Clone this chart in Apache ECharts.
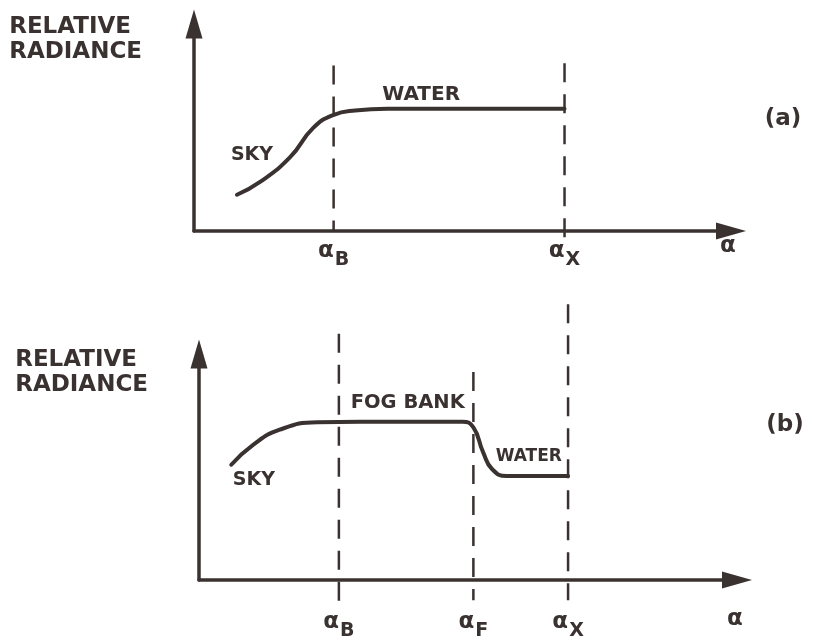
<!DOCTYPE html>
<html>
<head>
<meta charset="utf-8">
<script src="https://cdn.jsdelivr.net/npm/echarts@6/dist/echarts.min.js"></script>
<style>
  html, body { margin: 0; padding: 0; background: #ffffff; }
  #chart { width: 813px; height: 641px; }
</style>
</head>
<body>
<div id="chart"></div>
<script>
// Relative radiance against viewing angle α:
// (a) sky horizon seen over open water, (b) the same with a fog bank in between.

const INK = '#3a3230';
const FONT = 'DejaVu Sans';

// Marked angles (abscissa units) for each panel
const anglesA = { B: 26, X: 69 };
const anglesB = { B: 26, F: 51, X: 68.6 };

// Panel (a): sky rising into a flat water level
const skyWaterX = [8, 12.3, 17.9, 22.2, 25.9, 30, 36, 69];
const skyWaterY = [17.5, 23.7, 35.7, 49.8, 56, 58.2, 59, 59];

// Panel (b): sky rising into the fog bank, dropping to the water level
const skyFogX = [6, 10, 15, 22, 30, 49, 51, 52.8, 54.5, 57.2, 62, 68.6];
const skyFogY = [51, 59.7, 66.5, 69.8, 70, 70, 67.5, 56.6, 49, 46, 46, 46];

// Vertical extent [top, bottom] of the dashed guide at each marked angle
const guideA = { B: [80, 0], X: [81, -5] };
const guideB = { B: [109, -10], F: [92, -9], X: [122, -9] };

// Region names written along the curves
const regionNamesA = ['SKY', 'WATER'];
const regionNamesB = ['SKY', 'FOG BANK', 'WATER'];

const yTitle = '{n|RELATIVE}\n{n|RADIANCE}';

function alphaRich(size, subSize) {
  return {
    a: { fontFamily: FONT, fontSize: size, lineHeight: size, color: INK, fontWeight: 'bold', verticalAlign: 'top' },
    s: { fontFamily: FONT, fontSize: subSize, lineHeight: subSize, color: INK, fontWeight: 'bold',
         verticalAlign: 'top', padding: [11, 0, 0, 1] }
  };
}

function xAxisFor(gridIndex, angles, margin, nameGap, nameLineHeight) {
  const keys = Object.keys(angles);
  return {
    type: 'value', gridIndex: gridIndex, min: 0, max: 100,
    axisLine: {
      onZero: false,
      symbol: ['none', 'triangle'], symbolSize: [17, 30],
      lineStyle: { color: INK, width: 3.5 }
    },
    axisTick: { show: false },
    splitLine: { show: false },
    axisLabel: {
      customValues: keys.map(k => angles[k]),
      margin: margin,
      formatter: v => {
        const k = keys.find(key => angles[key] === v);
        return '{a|α}{s|' + k + '}';
      },
      rich: alphaRich(23, 19)
    },
    name: 'α', nameLocation: 'end', nameGap: nameGap,
    nameTextStyle: {
      fontFamily: FONT, fontSize: 23, fontWeight: 'bold', color: INK,
      align: 'center', verticalAlign: 'top', lineHeight: nameLineHeight
    }
  };
}

function yAxisFor(gridIndex, nameGap, padRight) {
  return {
    type: 'value', gridIndex: gridIndex, min: 0, max: 100,
    axisLine: {
      onZero: false,
      symbol: ['none', 'triangle'], symbolSize: [17, 29],
      lineStyle: { color: INK, width: 3.5 }
    },
    axisTick: { show: false },
    splitLine: { show: false },
    axisLabel: { show: false },
    name: yTitle, nameLocation: 'end', nameGap: nameGap,
    nameTextStyle: {
      align: 'right', verticalAlign: 'middle', padding: [0, padRight, 0, 0],
      rich: { n: { fontFamily: FONT, fontSize: 23, fontWeight: 'bold', color: INK, lineHeight: 25, align: 'left' } }
    }
  };
}

function curve(gridIndex, xs, ys) {
  return {
    type: 'line', xAxisIndex: gridIndex, yAxisIndex: gridIndex,
    data: xs.map((x, i) => [x, ys[i]]),
    smooth: 0.5,
    symbol: 'none', silent: true, z: 4,
    lineStyle: { color: INK, width: 4, cap: 'round', join: 'round' }
  };
}

function guides(gridIndex, angles, extents) {
  return Object.keys(angles).map(k => ({
    type: 'line', xAxisIndex: gridIndex, yAxisIndex: gridIndex,
    data: [[angles[k], extents[k][0]], [angles[k], extents[k][1]]],
    symbol: 'none', silent: true, clip: false, z: 3,
    lineStyle: { color: INK, width: 2.5, type: [19, 12] }
  }));
}

function regionLabels(gridIndex, names, spots) {
  return {
    type: 'scatter', xAxisIndex: gridIndex, yAxisIndex: gridIndex,
    symbolSize: 0, silent: true, z: 5,
    itemStyle: { color: INK },
    data: names.map((n, i) => ({
      name: n, value: [spots[i][0], spots[i][1]],
      label: { fontSize: spots[i][2] }
    })),
    label: {
      show: true, position: 'inside', formatter: '{b}',
      fontFamily: FONT, fontWeight: 'bold', color: INK,
      textBorderWidth: 0, opacity: 1
    }
  };
}

const chart = echarts.init(document.getElementById('chart'));

chart.setOption({
  animation: false,
  backgroundColor: '#ffffff',
  grid: [
    { left: 194, top: 24, width: 537, height: 207, containLabel: false, outerBoundsMode: 'none' },
    { left: 199, top: 354, width: 538, height: 226, containLabel: false, outerBoundsMode: 'none' }
  ],
  xAxis: [
    xAxisFor(0, anglesA, 9, -3, 30),
    xAxisFor(1, anglesB, 31, -2, 78)
  ],
  yAxis: [
    yAxisFor(0, -16, 52),
    yAxisFor(1, -19, 51)
  ],
  series: [
    ...guides(0, anglesA, guideA),
    ...guides(1, anglesB, guideB),
    curve(0, skyWaterX, skyWaterY),
    curve(1, skyFogX, skyFogY),
    regionLabels(0, regionNamesA, [[10.8, 36.7, 19], [42.3, 65.7, 20]]),
    regionLabels(1, regionNamesB, [[10.2, 44.2, 19], [38.8, 78.3, 19.5], [61.3, 54.4, 17]])
  ],
  graphic: [
    { type: 'text', x: 783, y: 119, style: { text: '(a)', font: 'bold 23px "DejaVu Sans"', fill: INK, align: 'center', verticalAlign: 'middle' } },
    { type: 'text', x: 785, y: 425, style: { text: '(b)', font: 'bold 23px "DejaVu Sans"', fill: INK, align: 'center', verticalAlign: 'middle' } }
  ]
});
</script>
</body>
</html>
